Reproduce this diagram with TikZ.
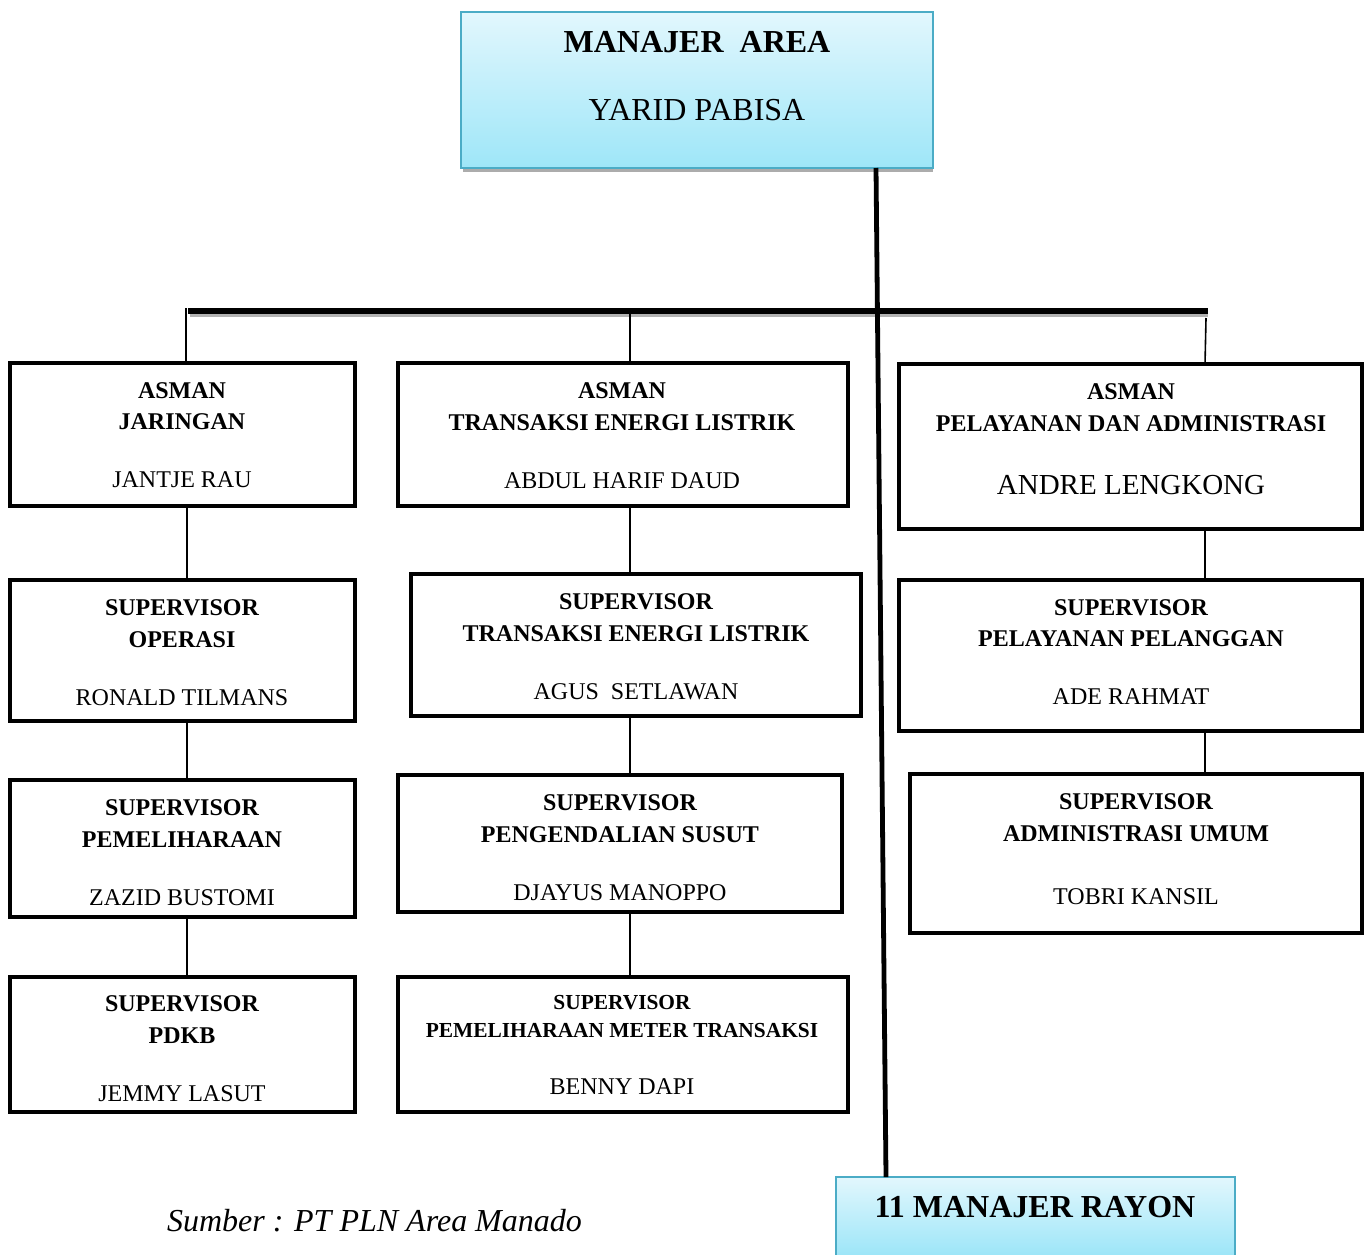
\documentclass[tikz,border=0pt]{standalone}
\usepackage{fontspec}
\setmainfont{Liberation Serif}
\newcommand\fb{\fontsize{12}{14}\selectfont\bfseries}
\newcommand\fr{\fontsize{12}{14}\selectfont}
\newcommand\fsb{\fontsize{10.7}{12}\selectfont\bfseries}
\newcommand\fbig{\fontsize{14.5}{16}\selectfont}
\newcommand\ftopb{\fontsize{16}{18}\selectfont\bfseries}
\newcommand\ftop{\fontsize{16}{18}\selectfont}
\newcommand\fit{\fontsize{16}{18}\selectfont\itshape}
\definecolor{bordteal}{RGB}{75,172,198}
\definecolor{lighttop}{RGB}{226,247,253}
\definecolor{lightbot}{RGB}{158,230,248}
\newcommand\bx[6][]{%
  \pgfmathsetmacro\bw{(#5-#3)*0.5}\pgfmathsetmacro\bh{(#6-#4)*0.5}%
  \node[box,#1,minimum width=\bw pt,minimum height=\bh pt] (#2) at ({(#3+#5)/2},{(#4+#6)/2}) {};}
\newcommand\tx[5]{\node[anchor=base,inner sep=0pt,font=#4] (#1) at (#2,#3) {#5};}
\begin{document}
\begin{tikzpicture}[x=0.5pt,y=-0.5pt,
  box/.style={draw=black,line width=2pt,rectangle,inner sep=0pt,outer sep=0pt},
  bluebox/.style={draw=bordteal,line width=1pt,top color=lighttop,bottom color=lightbot},
  conn/.style={line width=0.8pt},
  mainline/.style={line width=2.4pt},
  busline/.style={line width=2.6pt}]
\useasboundingbox (0,0) rectangle (1368,1254);
% top box
\fill[gray!65] (463,167) rectangle (933,172);
\bx[bluebox]{top}{461}{12}{933}{168}
\tx{ttop1}{697}{52.5}{\ftopb}{MANAJER\ \ AREA}
\tx{ttop2}{697}{120.5}{\ftop}{YARID PABISA}
% bottom box
\shade[top color=lighttop,bottom color=lightbot] (836,1177) rectangle (1235,1254);
\coordinate (botnw) at (836,1177);
\coordinate (botne) at (1235,1177);
\coordinate (bottop) at (886,1177);
\draw[draw=bordteal,line width=1pt] (836,1256) -- (botnw) -- (botne) -- (1235,1256);
\tx{tbot}{1035}{1217.5}{\ftopb}{11 MANAJER RAYON}
% left column
\bx{aj}{10}{363}{355}{506}
\bx{sop}{10}{580}{355}{721}
\bx{spm}{10}{780}{355}{917}
\bx{spd}{10}{977}{355}{1112}
\tx{a1}{182}{398}{\fb}{ASMAN}
\tx{a2}{182}{429}{\fb}{JARINGAN}
\tx{a3}{182}{487}{\fr}{JANTJE RAU}
\tx{b1}{182}{615}{\fb}{SUPERVISOR}
\tx{b2}{182}{647}{\fb}{OPERASI}
\tx{b3}{182}{705}{\fr}{RONALD TILMANS}
\tx{c1}{182}{815}{\fb}{SUPERVISOR}
\tx{c2}{182}{847}{\fb}{PEMELIHARAAN}
\tx{c3}{182}{905}{\fr}{ZAZID BUSTOMI}
\tx{d1}{182}{1011}{\fb}{SUPERVISOR}
\tx{d2}{182}{1043}{\fb}{PDKB}
\tx{d3}{182}{1101}{\fr}{JEMMY LASUT}
% middle column
\bx{at}{398}{363}{848}{506}
\bx{stel}{411}{574}{861}{716}
\bx{sps}{398}{775}{842}{912}
\bx{spmt}{398}{977}{848}{1112}
\tx{e1}{622}{398}{\fb}{ASMAN}
\tx{e2}{622}{430}{\fb}{TRANSAKSI ENERGI LISTRIK}
\tx{e3}{622}{488}{\fr}{ABDUL HARIF DAUD}
\tx{f1}{636}{609}{\fb}{SUPERVISOR}
\tx{f2}{636}{641}{\fb}{TRANSAKSI ENERGI LISTRIK}
\tx{f3}{636}{699}{\fr}{AGUS\ \ SETLAWAN}
\tx{g1}{620}{810}{\fb}{SUPERVISOR}
\tx{g2}{620}{842}{\fb}{PENGENDALIAN SUSUT}
\tx{g3}{620}{900}{\fr}{DJAYUS MANOPPO}
\tx{h1}{622}{1009}{\fsb}{SUPERVISOR}
\tx{h2}{622}{1037}{\fsb}{PEMELIHARAAN METER TRANSAKSI}
\tx{h3}{622}{1094}{\fr}{BENNY DAPI}
% right column
\bx{ap}{899}{364}{1362}{529}
\bx{spp}{899}{580}{1362}{731}
\bx{sau}{910}{774}{1362}{933}
\tx{i1}{1131}{399}{\fb}{ASMAN}
\tx{i2}{1131}{431}{\fb}{PELAYANAN DAN ADMINISTRASI}
\tx{i3}{1131}{494}{\fbig}{ANDRE LENGKONG}
\tx{j1}{1131}{615}{\fb}{SUPERVISOR}
\tx{j2}{1131}{646}{\fb}{PELAYANAN PELANGGAN}
\tx{j3}{1131}{704}{\fr}{ADE RAHMAT}
\tx{k1}{1136}{809}{\fb}{SUPERVISOR}
\tx{k2}{1136}{841}{\fb}{ADMINISTRASI UMUM}
\tx{k3}{1136}{904}{\fr}{TOBRI KANSIL}
% source
\tx{src}{374.5}{1231}{\fit}{Sumber : PT PLN Area Manado}
% connectors
\coordinate (lx) at (186,0);
\coordinate (lx2) at (187,0);
\coordinate (mx) at (630,0);
\coordinate (rx) at (1205,0);
\coordinate (busL) at (188,311);
\coordinate (busR) at (1208,311);
\coordinate (topx) at (876,0);
\coordinate (bustopL) at (186,308);
\coordinate (busM) at (630,311);
\coordinate (busRdrop) at (1206,318);
\draw[gray!60,busline] (190,314) -- (1208,314);
\draw[busline] (busL) -- (busR);
\draw[mainline] (top.south -| topx) -- (bottop);
\draw[conn] (bustopL) -- (aj.north -| lx);
\draw[conn] (busM) -- (at.north -| mx);
\draw[conn] (busRdrop) -- (ap.north -| rx);
\draw[conn] (aj.south -| lx2) -- (sop.north -| lx2);
\draw[conn] (sop.south -| lx2) -- (spm.north -| lx2);
\draw[conn] (spm.south -| lx2) -- (spd.north -| lx2);
\draw[conn] (at.south -| mx) -- (stel.north -| mx);
\draw[conn] (stel.south -| mx) -- (sps.north -| mx);
\draw[conn] (sps.south -| mx) -- (spmt.north -| mx);
\draw[conn] (ap.south -| rx) -- (spp.north -| rx);
\draw[conn] (spp.south -| rx) -- (sau.north -| rx);
\end{tikzpicture}
\end{document}
